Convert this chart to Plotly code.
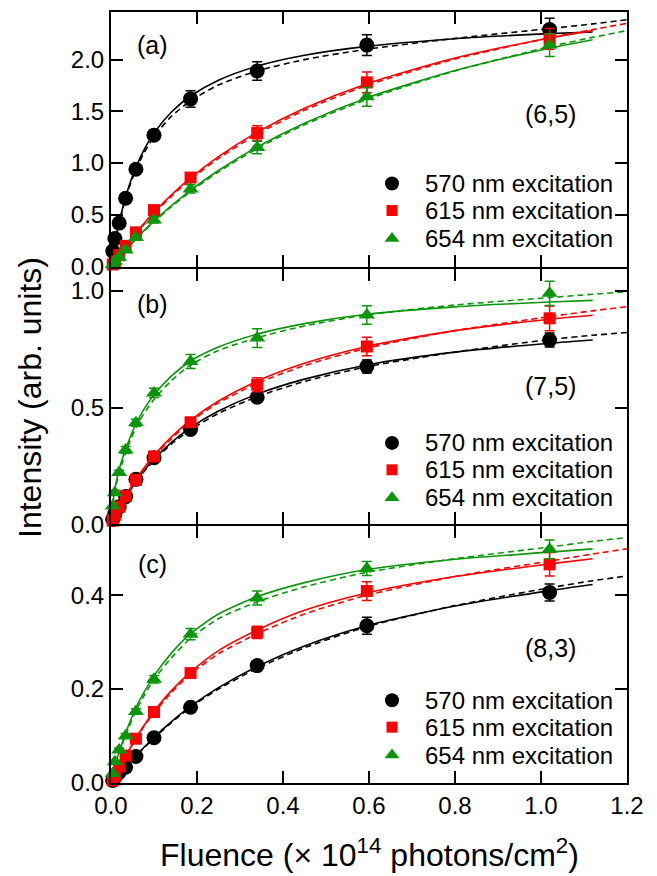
import plotly.graph_objects as go

# ---------------- data ----------------
FLUENCE = [0.004, 0.009, 0.019, 0.034, 0.058, 0.1, 0.185, 0.34, 0.595, 1.02]

A_BLACK = [0.15, 0.27, 0.42, 0.66, 0.94, 1.27, 1.62, 1.89, 2.14, 2.29]
A_BLACK_ERR = [0.02, 0.02, 0.02, 0.03, 0.04, 0.05, 0.08, 0.09, 0.10, 0.11]
A_RED = [0.02, 0.05, 0.11, 0.20, 0.33, 0.545, 0.86, 1.29, 1.78, 2.20]
A_RED_ERR = [0.01, 0.01, 0.01, 0.02, 0.02, 0.03, 0.04, 0.07, 0.10, 0.10]
A_GREEN = [0.02, 0.05, 0.09, 0.16, 0.28, 0.45, 0.75, 1.15, 1.64, 2.14]
A_GREEN_ERR = [0.01, 0.01, 0.01, 0.02, 0.02, 0.03, 0.04, 0.06, 0.09, 0.11]

B_BLACK = [0.02, 0.045, 0.075, 0.118, 0.192, 0.285, 0.406, 0.544, 0.676, 0.79]
B_BLACK_ERR = [0.005, 0.005, 0.005, 0.008, 0.01, 0.012, 0.015, 0.02, 0.028, 0.03]
B_RED = [0.015, 0.04, 0.075, 0.12, 0.19, 0.29, 0.437, 0.598, 0.762, 0.883]
B_RED_ERR = [0.005, 0.005, 0.005, 0.008, 0.01, 0.012, 0.015, 0.03, 0.04, 0.053]
B_GREEN = [0.078, 0.135, 0.221, 0.318, 0.435, 0.563, 0.698, 0.798, 0.897, 0.99]
B_GREEN_ERR = [0.01, 0.01, 0.01, 0.015, 0.015, 0.02, 0.03, 0.04, 0.04, 0.052]

C_BLACK = [0.005, 0.012, 0.022, 0.033, 0.056, 0.096, 0.161, 0.25, 0.335, 0.406]
C_BLACK_ERR = [0.002, 0.002, 0.003, 0.003, 0.004, 0.005, 0.007, 0.01, 0.018, 0.018]
C_RED = [0.005, 0.015, 0.035, 0.058, 0.094, 0.151, 0.234, 0.321, 0.409, 0.466]
C_RED_ERR = [0.002, 0.002, 0.003, 0.004, 0.005, 0.006, 0.008, 0.013, 0.02, 0.025]
C_GREEN = [0.02, 0.045, 0.07, 0.10, 0.152, 0.221, 0.317, 0.394, 0.457, 0.498]
C_GREEN_ERR = [0.003, 0.003, 0.004, 0.005, 0.006, 0.008, 0.012, 0.015, 0.015, 0.02]

# fit curves (solid: to 1.12, dashed: to 1.2)
FIT_X = [0, 0.003, 0.007, 0.012, 0.019, 0.027, 0.034, 0.045, 0.058, 0.075,
         0.1, 0.14, 0.185, 0.25, 0.34, 0.45, 0.595, 0.8, 1.02, 1.12]
FIT_X_DASH = FIT_X + [1.2]

A_BLACK_FIT = [0, 0.079, 0.177, 0.288, 0.427, 0.565, 0.672, 0.817, 0.960, 1.114,
               1.289, 1.491, 1.648, 1.801, 1.937, 2.042, 2.128, 2.202, 2.251, 2.267]
A_BLACK_DASH = [0, 0.075, 0.17, 0.28, 0.415, 0.55, 0.655, 0.795, 0.935, 1.085,
                1.255, 1.45, 1.60, 1.755, 1.89, 2.0, 2.10, 2.205, 2.30, 2.345, 2.385]
A_RED_FIT = [0, 0.0185, 0.043, 0.073, 0.114, 0.159, 0.198, 0.257, 0.324, 0.408,
             0.523, 0.690, 0.856, 1.063, 1.299, 1.530, 1.767, 2.015, 2.209, 2.280]
A_RED_DASH = [0, 0.018, 0.042, 0.071, 0.111, 0.156, 0.195, 0.252, 0.318, 0.4,
              0.513, 0.677, 0.842, 1.045, 1.28, 1.51, 1.75, 2.005, 2.21, 2.29, 2.35]
A_GREEN_FIT = [0, 0.015, 0.035, 0.059, 0.093, 0.130, 0.162, 0.212, 0.268, 0.340,
               0.439, 0.586, 0.736, 0.928, 1.155, 1.385, 1.629, 1.895, 2.110, 2.191]
A_GREEN_DASH = [0, 0.0145, 0.034, 0.058, 0.091, 0.128, 0.16, 0.209, 0.264, 0.335,
                0.432, 0.577, 0.725, 0.915, 1.14, 1.37, 1.615, 1.89, 2.125, 2.215, 2.28]

B_BLACK_FIT = [0, 0.012, 0.027, 0.045, 0.070, 0.096, 0.118, 0.150, 0.185, 0.226,
               0.279, 0.350, 0.414, 0.485, 0.558, 0.622, 0.683, 0.738, 0.776, 0.790]
B_BLACK_DASH = [0, 0.011, 0.026, 0.044, 0.068, 0.094, 0.115, 0.146, 0.181, 0.221,
                0.273, 0.343, 0.405, 0.475, 0.547, 0.612, 0.675, 0.738, 0.792, 0.81, 0.822]
B_RED_FIT = [0, 0.012, 0.027, 0.046, 0.071, 0.099, 0.121, 0.155, 0.192, 0.237,
             0.295, 0.373, 0.446, 0.528, 0.614, 0.690, 0.762, 0.830, 0.879, 0.896]
B_RED_DASH = [0, 0.012, 0.027, 0.045, 0.070, 0.097, 0.119, 0.152, 0.188, 0.232,
              0.289, 0.366, 0.44, 0.52, 0.604, 0.68, 0.755, 0.83, 0.89, 0.915, 0.933]
B_GREEN_FIT = [0, 0.07, 0.13, 0.18, 0.235, 0.285, 0.322, 0.375, 0.43, 0.488,
               0.555, 0.635, 0.70, 0.76, 0.815, 0.86, 0.90, 0.932, 0.953, 0.96]
B_GREEN_DASH = [0, 0.065, 0.12, 0.168, 0.22, 0.268, 0.306, 0.36, 0.413, 0.47,
                0.535, 0.615, 0.682, 0.745, 0.8, 0.85, 0.898, 0.94, 0.972, 0.986, 0.997]

C_BLACK_FIT = [0, 0.003, 0.008, 0.013, 0.02, 0.028, 0.035, 0.046, 0.058, 0.074,
               0.097, 0.13, 0.163, 0.203, 0.248, 0.292, 0.335, 0.377, 0.41, 0.423]
C_BLACK_DASH = [0, 0.003, 0.008, 0.013, 0.02, 0.028, 0.034, 0.045, 0.057, 0.073,
                0.095, 0.128, 0.161, 0.2, 0.244, 0.288, 0.333, 0.378, 0.416, 0.431, 0.441]
C_RED_FIT = [0, 0.005, 0.012, 0.021, 0.033, 0.046, 0.058, 0.075, 0.095, 0.12,
             0.152, 0.196, 0.236, 0.282, 0.326, 0.368, 0.405, 0.44, 0.467, 0.478]
C_RED_DASH = [0, 0.005, 0.012, 0.021, 0.032, 0.045, 0.057, 0.074, 0.093, 0.118,
              0.149, 0.192, 0.232, 0.275, 0.318, 0.36, 0.4, 0.44, 0.473, 0.488, 0.499]
C_GREEN_FIT = [0, 0.012, 0.027, 0.044, 0.066, 0.088, 0.106, 0.132, 0.16, 0.19,
               0.228, 0.276, 0.318, 0.36, 0.397, 0.427, 0.455, 0.477, 0.492, 0.499]
C_GREEN_DASH = [0, 0.011, 0.025, 0.042, 0.063, 0.084, 0.101, 0.126, 0.153, 0.183,
                0.22, 0.266, 0.308, 0.35, 0.386, 0.418, 0.449, 0.478, 0.503, 0.515, 0.523]

SERIES_NAMES = ["570 nm excitation", "615 nm excitation", "654 nm excitation"]
PANEL_LABELS = ["(a)", "(b)", "(c)"]
CHIRALITY = ["(6,5)", "(7,5)", "(8,3)"]
X_TICKS = [0.0, 0.2, 0.4, 0.6, 0.8, 1.0, 1.2]
Y_TICKS = [[0.0, 0.5, 1.0, 1.5, 2.0], [0.0, 0.5, 1.0], [0.0, 0.2, 0.4]]
Y_RANGES = [[-0.001, 2.46], [-0.001, 1.096], [-0.0005, 0.547]]

# ---------------- styling / layout geometry ----------------
COLORS = ["#000000", "#ff0000", "#0a960a"]
SYMBOLS = ["circle", "square", "triangle-up"]
SIZES = [15, 12, 14]
FONT = "Liberation Sans, Arial, Helvetica, sans-serif"

W, H = 657, 876
OFF = 8                      # page offset of the figure in the browser
PLOT_L, PLOT_R = 111, 627    # plot area in screen pixels
PLOT_T, PLOT_B = 10, 783
PW, PH = PLOT_R - PLOT_L, PLOT_B - PLOT_T


def px(sx):
    return (sx - PLOT_L) / PW


def py(sy):
    return (PLOT_B - sy) / PH


panels = [
    dict(data=[A_BLACK, A_RED, A_GREEN], err=[A_BLACK_ERR, A_RED_ERR, A_GREEN_ERR],
         fit=[A_BLACK_FIT, A_RED_FIT, A_GREEN_FIT], dash=[A_BLACK_DASH, A_RED_DASH, A_GREEN_DASH]),
    dict(data=[B_BLACK, B_RED, B_GREEN], err=[B_BLACK_ERR, B_RED_ERR, B_GREEN_ERR],
         fit=[B_BLACK_FIT, B_RED_FIT, B_GREEN_FIT], dash=[B_BLACK_DASH, B_RED_DASH, B_GREEN_DASH]),
    dict(data=[C_BLACK, C_RED, C_GREEN], err=[C_BLACK_ERR, C_RED_ERR, C_GREEN_ERR],
         fit=[C_BLACK_FIT, C_RED_FIT, C_GREEN_FIT], dash=[C_BLACK_DASH, C_RED_DASH, C_GREEN_DASH]),
]

fig = go.Figure()

for p, panel in enumerate(panels):
    xa = "x" if p == 0 else f"x{p+1}"
    ya = "y" if p == 0 else f"y{p+1}"
    for s in range(3):
        fig.add_trace(go.Scatter(x=FIT_X_DASH, y=panel["dash"][s], mode="lines",
                                 line=dict(color=COLORS[s], width=1.6, dash="6px,4px",
                                           shape="spline", smoothing=0.7),
                                 xaxis=xa, yaxis=ya, showlegend=False, hoverinfo="skip",
                                 cliponaxis=False))
        fig.add_trace(go.Scatter(x=FIT_X, y=panel["fit"][s], mode="lines",
                                 line=dict(color=COLORS[s], width=1.6,
                                           shape="spline", smoothing=0.7),
                                 xaxis=xa, yaxis=ya, showlegend=False, hoverinfo="skip",
                                 cliponaxis=False))
    for s in range(3):
        fig.add_trace(go.Scatter(
            x=FLUENCE, y=panel["data"][s], mode="markers", name=SERIES_NAMES[s],
            marker=dict(color=COLORS[s], symbol=SYMBOLS[s], size=SIZES[s], line=dict(width=0)),
            error_y=dict(type="data", array=panel["err"][s], color=COLORS[s],
                         thickness=1.5, width=5),
            xaxis=xa, yaxis=ya, showlegend=False, cliponaxis=False))

# per-panel legends (keys drawn on a hidden overlay axis spanning the plot area)
LEG_ROWS = [[182, 209, 237], [442, 469, 497], [700, 727, 755]]
LEG_KEY_X, LEG_TEXT_X = 392, 423
annotations = []
for p in range(3):
    for s in range(3):
        fig.add_trace(go.Scatter(
            x=[px(LEG_KEY_X)], y=[py(LEG_ROWS[p][s])], mode="markers", name=SERIES_NAMES[s],
            marker=dict(color=COLORS[s], symbol=SYMBOLS[s], size=SIZES[s] - 1, line=dict(width=0)),
            xaxis="x4", yaxis="y4", showlegend=False, hoverinfo="skip", cliponaxis=False))
        annotations.append(dict(text=SERIES_NAMES[s], xref="paper", yref="paper",
                                x=px(LEG_TEXT_X), y=py(LEG_ROWS[p][s]),
                                xanchor="left", yanchor="middle", showarrow=False,
                                font=dict(family=FONT, size=24, color="black")))

axis_common = dict(showline=True, linecolor="black", linewidth=2, mirror="ticks",
                   ticks="inside", ticklen=12, tickwidth=2, tickcolor="black",
                   showgrid=False, zeroline=False,
                   tickfont=dict(family=FONT, size=24, color="black"))

# panel domains in screen px (leave 2px between so the shared frame line is single)
DOMS_PX = [(PLOT_T, 265.3), (267.3, 523.7), (525.7, PLOT_B)]

layout = dict(
    width=W, height=H,
    margin=dict(l=PLOT_L - OFF, r=W - (PLOT_R - OFF), t=PLOT_T - OFF, b=H - (PLOT_B - OFF)),
    paper_bgcolor="white", plot_bgcolor="rgba(0,0,0,0)",
    font=dict(family=FONT, color="black"),
    showlegend=False,
)
for p in range(3):
    xk = "xaxis" if p == 0 else f"xaxis{p+1}"
    yk = "yaxis" if p == 0 else f"yaxis{p+1}"
    ya = "y" if p == 0 else f"y{p+1}"
    xa = "x" if p == 0 else f"x{p+1}"
    layout[xk] = dict(axis_common, range=[0, 1.2], tickvals=X_TICKS,
                      ticktext=[f"{v:.1f}" for v in X_TICKS],
                      showticklabels=(p == 2), anchor=ya, domain=[0, 1])
    layout[yk] = dict(axis_common, range=Y_RANGES[p], tickvals=Y_TICKS[p],
                      ticktext=[f"{v:.1f}" for v in Y_TICKS[p]],
                      anchor=xa, domain=[py(DOMS_PX[p][1]), py(DOMS_PX[p][0])])
layout["xaxis4"] = dict(range=[0, 1], domain=[0, 1], visible=False, anchor="y4", fixedrange=True)
layout["yaxis4"] = dict(range=[0, 1], domain=[0, 1], visible=False, anchor="x4", fixedrange=True)

LABEL_Y = [43, 303, 563]
CHIR_Y = [112, 385, 648]
for p in range(3):
    annotations.append(dict(text=PANEL_LABELS[p], xref="paper", yref="paper",
                            x=px(152), y=py(LABEL_Y[p]), xanchor="center", yanchor="middle",
                            showarrow=False, font=dict(family=FONT, size=25, color="black")))
    annotations.append(dict(text=CHIRALITY[p], xref="paper", yref="paper",
                            x=px(550), y=py(CHIR_Y[p]), xanchor="center", yanchor="middle",
                            showarrow=False, font=dict(family=FONT, size=25, color="black")))
annotations.append(dict(text="Intensity (arb. units)", xref="paper", yref="paper",
                        x=px(30), y=py(397), textangle=-90, xanchor="center", yanchor="middle",
                        showarrow=False, font=dict(family=FONT, size=32, color="black")))
annotations.append(dict(text="Fluence (× 10<sup>14</sup> photons/cm<sup>2</sup>)",
                        xref="paper", yref="paper", x=px(369), y=py(853),
                        xanchor="center", yanchor="middle",
                        showarrow=False, font=dict(family=FONT, size=32, color="black")))
layout["annotations"] = annotations

fig.update_layout(**layout)
fig.write_html("out.html")
